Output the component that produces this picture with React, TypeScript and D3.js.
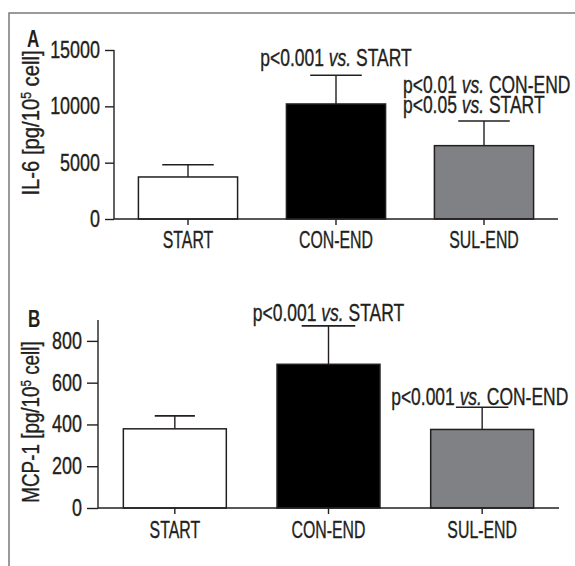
import React, { useEffect, useRef } from "react";
import * as d3 from "d3";

const categories = ["START", "CON-END", "SUL-END"];
const il6Means = [3730, 10210, 6510];
const il6Errors = [1090, 2550, 2190];
const il6Ticks = [0, 5000, 10000, 15000];
const mcpMeans = [379, 688, 376];
const mcpErrors = [62, 184, 106];
const mcpTicks = [0, 200, 400, 600, 800];
const fills = ["#ffffff", "#000000", "#808184"];

const FONT = "'Liberation Sans', Arial, sans-serif";
const INK = "#231f20";
const FS = 23;
const SX_TICK = 0.78;
const SX_CAT = 0.69;
const SX_ANN = 0.76;
const TEXT_STROKE = 0.35;

type Ann = { bar: number; lines: [string, string, string][]; anchor: string; dx: number; dy: number; lh: number };

const panels = [
  {
    letter: "A",
    letterPos: [27, 47],
    ylabel: ["IL-6 [pg/10", "5", " cell]"],
    ylabelPos: [39, 123],
    ylabelSx: 0.88,
    means: il6Means,
    errors: il6Errors,
    ticks: il6Ticks,
    domain: [0, 15000],
    yRange: [219, 50],
    xRange: [114, 558],
    tickLen: 9,
    caps: [0.52, 0.52, 0.52],
    xLabelY: 248,
    ann: [
      { bar: 1, lines: [["p<0.001 ", "vs.", " START"]], anchor: "middle", dx: 0, dy: -9, lh: 20 },
      { bar: 2, lines: [["p<0.01 ", "vs.", " CON-END"], ["p<0.05 ", "vs.", " START"]], anchor: "start", dx: -81, dy: -8, lh: 20 },
    ],
  },
  {
    letter: "B",
    letterPos: [28, 327],
    ylabel: ["MCP-1 [pg/10", "5", " cell]"],
    ylabelPos: [39, 422],
    ylabelSx: 0.82,
    means: mcpMeans,
    errors: mcpErrors,
    ticks: mcpTicks,
    domain: [0, 900],
    yRange: [508, 320],
    xRange: [98, 559],
    tickLen: 11,
    caps: [0.39, 0.52, 0.51],
    xLabelY: 538,
    ann: [
      { bar: 1, lines: [["p<0.001 ", "vs.", " START"]], anchor: "middle", dx: 0, dy: -5, lh: 20 },
      { bar: 2, lines: [["p<0.001 ", "vs.", " CON-END"]], anchor: "start", dx: -91, dy: -2, lh: 20 },
    ],
  },
];

function addText(g: any, x: number, y: number, sx: number, anchor: string) {
  return g.append("text")
    .attr("transform", `translate(${x},${y}) scale(${sx},1)`)
    .attr("text-anchor", anchor)
    .attr("font-family", FONT)
    .attr("font-size", FS)
    .attr("fill", INK)
    .attr("stroke", INK)
    .attr("stroke-width", TEXT_STROKE);
}

export default function App() {
  const ref = useRef<SVGSVGElement>(null);
  useEffect(() => {
    const svg = d3.select(ref.current);
    svg.selectAll("*").remove();

    // frame
    svg.append("path").attr("d", "M9,566 V13 H575").attr("fill", "none").attr("stroke", "#7a7a7a").attr("stroke-width", 1.5);

    panels.forEach((p) => {
      const g = svg.append("g");
      const x = d3.scaleBand<string>().domain(categories).range(p.xRange as [number, number]).paddingInner(0.33).paddingOuter(0.165);
      const y = d3.scaleLinear().domain(p.domain).range(p.yRange);

      // y axis
      const ya = g.append("g").attr("transform", `translate(${p.xRange[0]},0)`)
        .call(d3.axisLeft(y).tickValues(p.ticks).tickSize(p.tickLen).tickPadding(5).tickFormat(d3.format("d")));
      ya.select(".domain").attr("stroke", INK).attr("stroke-width", 1.4).attr("d", `M0,${p.yRange[1]}V${p.yRange[0]}`);
      ya.selectAll(".tick line").attr("stroke", INK).attr("stroke-width", 1.4);
      ya.selectAll(".tick text")
        .attr("font-family", FONT).attr("font-size", FS).attr("fill", INK)
        .attr("stroke", INK).attr("stroke-width", TEXT_STROKE)
        .attr("x", 0)
        .attr("transform", `translate(${-(p.tickLen + 5)},0) scale(${SX_TICK},1)`);

      // bars
      categories.forEach((c, i) => {
        const bx = x(c)!;
        const bw = x.bandwidth();
        const cx = bx + bw / 2;
        const top = y(p.means[i]);
        const etop = y(p.means[i] + p.errors[i]);
        const cw = bw * p.caps[i];
        g.append("line").attr("x1", cx).attr("x2", cx).attr("y1", top).attr("y2", etop).attr("stroke", INK).attr("stroke-width", 1.4);
        g.append("line").attr("x1", cx - cw / 2).attr("x2", cx + cw / 2).attr("y1", etop).attr("y2", etop).attr("stroke", INK).attr("stroke-width", 1.6);
        g.append("rect").attr("x", bx).attr("y", top).attr("width", bw).attr("height", y(0) - top)
          .attr("fill", fills[i]).attr("stroke", INK).attr("stroke-width", 1.5);
      });

      // x axis
      const xa = g.append("g").attr("transform", `translate(0,${p.yRange[0]})`)
        .call(d3.axisBottom(x).tickSize(6).tickPadding(0).tickFormat(() => ""));
      xa.select(".domain").attr("stroke", INK).attr("stroke-width", 1.4).attr("d", `M${p.xRange[0]},0H${p.xRange[1]}`);
      xa.selectAll(".tick line").attr("stroke", INK).attr("stroke-width", 1.4);
      categories.forEach((c) => {
        addText(g, x(c)! + x.bandwidth() / 2, p.xLabelY, SX_CAT, "middle").text(c);
      });

      // panel letter
      g.append("text").attr("transform", `translate(${p.letterPos[0]},${p.letterPos[1]}) scale(0.74,1)`)
        .attr("font-family", FONT).attr("font-weight", "bold").attr("font-size", 23).attr("fill", INK).text(p.letter);

      // y label
      const yl = g.append("text").attr("transform", `translate(${p.ylabelPos[0]},${p.ylabelPos[1]}) rotate(-90) scale(${p.ylabelSx},1)`)
        .attr("text-anchor", "middle").attr("font-family", FONT).attr("font-size", FS).attr("fill", INK)
        .attr("stroke", INK).attr("stroke-width", TEXT_STROKE);
      yl.append("tspan").text(p.ylabel[0]);
      yl.append("tspan").attr("font-size", 14).attr("dy", -8).text(p.ylabel[1]);
      yl.append("tspan").attr("dy", 8).text(p.ylabel[2]);

      // annotations
      (p.ann as Ann[]).forEach((a) => {
        const cx = x(categories[a.bar])! + x.bandwidth() / 2;
        const etop = y(p.means[a.bar] + p.errors[a.bar]);
        const n = a.lines.length;
        a.lines.forEach((ln, k) => {
          const t = addText(g, cx + a.dx, etop + a.dy - (n - 1 - k) * a.lh, SX_ANN, a.anchor);
          t.append("tspan").text(ln[0]);
          t.append("tspan").attr("font-style", "italic").text(ln[1]);
          t.append("tspan").text(ln[2]);
        });
      });
    });
  }, []);
  return (
    <svg ref={ref} width={575} height={566} style={{ position: "absolute", left: 0, top: 0, background: "#fff" }} />
  );
}
